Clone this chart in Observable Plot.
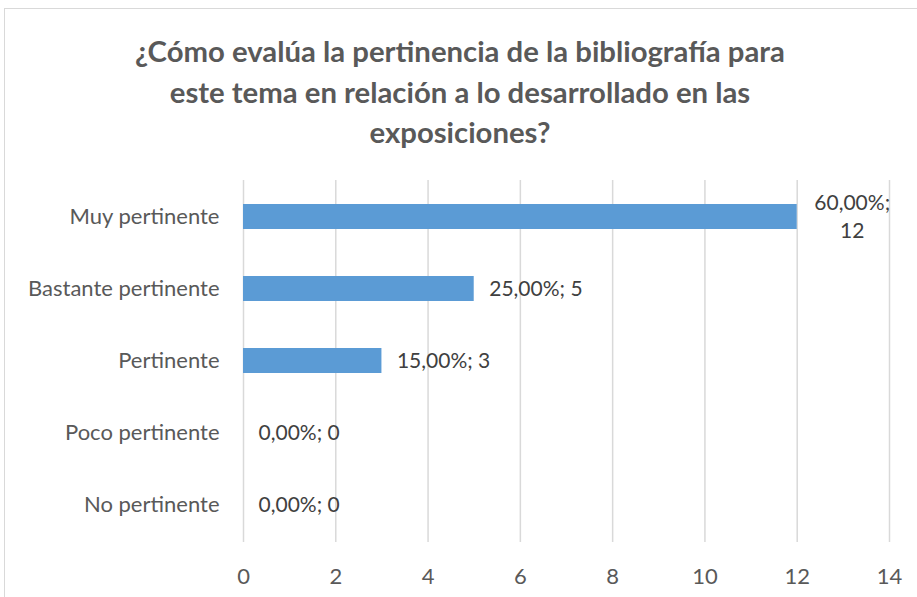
<!DOCTYPE html>
<html>
<head>
<meta charset="utf-8">
<script src="https://cdn.jsdelivr.net/npm/d3@7"></script>
<script src="https://cdn.jsdelivr.net/npm/@observablehq/plot@0.6"></script>
<style>
  html, body { margin: 0; padding: 0; background: #fff; }
  #wrap { position: relative; width: 917px; height: 597px; overflow: hidden; font-family: Lato, "Open Sans", sans-serif; }
  #frame { position: absolute; left: 4px; top: 8px; width: 940px; height: 620px; border: 1px solid #d9d9d9; box-sizing: border-box; }
  #title { position: absolute; left: 0; top: 0; width: 920px; height: 170px; box-sizing: border-box; padding-top: 31px;
           text-align: center; color: #595959; font-weight: bold; font-size: 29.3px; line-height: 40.5px; }
  #chart { position: absolute; left: 0; top: 170px; }
</style>
</head>
<body>
<div id="wrap">
  <div id="frame"></div>
  <div id="title">¿Cómo evalúa la pertinencia de la bibliografía para<br>este tema en relación a lo desarrollado en las<br>exposiciones?</div>
  <div id="chart"></div>
</div>
<script>
const categories = ["Muy pertinente", "Bastante pertinente", "Pertinente", "Poco pertinente", "No pertinente"];
const counts = [12, 5, 3, 0, 0];
const percents = ["60,00%", "25,00%", "15,00%", "0,00%", "0,00%"];
const xTicks = [0, 2, 4, 6, 8, 10, 12, 14];

const data = categories.map((c, i) => ({category: c, count: counts[i], pct: percents[i]}));
const wide = data.filter(d => d.count >= 10);
const narrow = data.filter(d => d.count < 10);

const plot = Plot.plot({
  width: 917,
  height: 427,
  marginTop: 10,
  marginBottom: 55,
  marginLeft: 243,
  marginRight: 28,
  style: {fontFamily: "Lato, 'Open Sans', sans-serif", fontSize: "22px", color: "#595959", background: "transparent"},
  x: {domain: [0, 14], ticks: xTicks, label: null},
  y: {domain: categories, paddingInner: 0.65, paddingOuter: 0.325, label: null},
  marks: [
    Plot.gridX(xTicks, {stroke: "#d9d9d9", strokeOpacity: 1, strokeWidth: 1.5}),
    Plot.barX(data, {x: "count", y: "category", fill: "#5b9bd5"}),
    Plot.axisX({ticks: xTicks, tickSize: 0, tickPadding: 26, fontSize: 22, fill: "#595959", label: null}),
    Plot.axisY({tickSize: 0, tickPadding: 24, fontSize: 22, fill: "#595959", label: null}),
    Plot.text(narrow, {x: "count", y: "category", text: d => `${d.pct}; ${d.count}`, textAnchor: "start", dx: 15, fontSize: 21, fill: "#404040"}),
    Plot.text(wide, {x: "count", y: "category", text: d => `${d.pct};\n${d.count}`, textAnchor: "middle", dx: 55, dy: -2, lineHeight: 1.36, fontSize: 21, fill: "#404040"})
  ]
});
document.getElementById("chart").appendChild(plot);
</script>
</body>
</html>
